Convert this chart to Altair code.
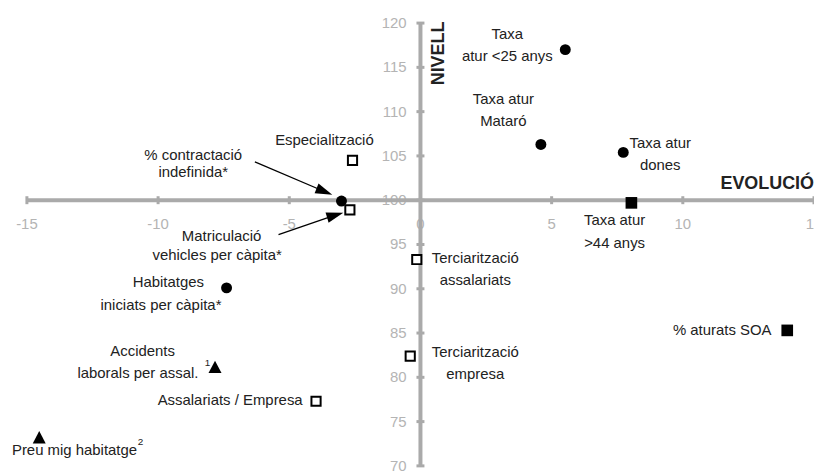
import altair as alt
import pandas as pd

# ---- data ----
names = ["Taxa atur <25 anys", "Taxa atur Mataró", "Taxa atur dones", "Taxa atur >44 anys",
         "% aturats SOA", "Terciarització assalariats", "Terciarització empresa", "Especialització",
         "% contractació indefinida*", "Matriculació vehicles per càpita*",
         "Habitatges iniciats per càpita*", "Accidents laborals per assal.",
         "Assalariats / Empresa", "Preu mig habitatge"]
evolucio = [5.52, 4.59, 7.73, 8.04, 13.98, -0.14, -0.39, -2.59, -3.01, -2.69, -7.39, -7.83, -3.98, -14.53]
nivell = [117.0, 106.3, 105.4, 99.7, 85.3, 93.3, 82.4, 104.5, 99.9, 98.9, 90.1, 81.15, 77.3, 73.2]
kinds = ["circle", "circle", "circle", "square", "square", "open", "open", "open",
         "circle", "open", "circle", "triangle", "open", "triangle"]

x_ticks = [-15, -10, -5, 0, 5, 10, 15]
y_ticks = [70, 75, 80, 85, 90, 95, 100, 105, 110, 115, 120]

# label lines: text, anchor x, anchor y, alignment
label_text = ["Taxa", "atur <25 anys", "Taxa atur", "Mataró", "Taxa atur", "dones",
              "Taxa atur", ">44 anys", "% aturats SOA", "Terciarització", "assalariats",
              "Terciarització", "empresa", "Especialització", "% contractació", "indefinida*",
              "Matriculació", "vehicles per càpita*", "Habitatges", "iniciats per càpita*",
              "Accidents", "laborals per assal.", "Assalariats / Empresa", "Preu mig habitatge"]
label_x = [3.31, 3.31, 3.16, 3.16, 9.14, 9.14, 7.40, 7.40, 13.38, 2.09, 2.09, 2.09, 2.09,
           -3.66, -8.66, -8.66, -7.58, -7.75, -9.61, -9.89, -10.59, -10.77, -4.49, -15.57]
label_y = [118.71, 116.24, 111.40, 108.93, 106.46, 103.99, 97.81, 95.22, 85.34, 93.43, 90.96,
           82.87, 80.39, 106.80, 105.11, 103.20, 96.01, 93.76, 90.76, 88.15, 83.01, 80.47,
           77.47, 71.78]
label_align = ["center"] * 8 + ["right"] + ["center"] * 13 + ["right", "left"]

sup_text = ["1", "2"]
sup_x = [-8.12, -10.67]
sup_y = [81.60, 72.72]

# arrows: start and head centre, head angle
arrow_x = [-6.31, -5.41]
arrow_y = [104.33, 96.12]
arrow_x2 = [-3.66, -3.25]
arrow_y2 = [100.98, 98.31]
arrow_angle = [111.9, 73.1]

axis_title = ["EVOLUCIÓ", "NIVELL"]

# ---- build ----
FONT = "Liberation Sans"
AX = "#aaaaaa"
LAB = "#b4b4b4"

xs = alt.Scale(domain=[x_ticks[0], x_ticks[-1]], nice=False, zero=False)
ys = alt.Scale(domain=[y_ticks[0], y_ticks[-1]], nice=False, zero=False)

def X(f):
    return alt.X(f, type="quantitative", scale=xs, axis=None)

def Y(f):
    return alt.Y(f, type="quantitative", scale=ys, axis=None)

pts = pd.DataFrame({"name": names, "x": evolucio, "y": nivell, "kind": kinds})
labs = pd.DataFrame({"t": label_text, "x": label_x, "y": label_y, "a": label_align})
sups = pd.DataFrame({"t": sup_text, "x": sup_x, "y": sup_y})
arr = pd.DataFrame({"x": arrow_x, "y": arrow_y, "x2": arrow_x2, "y2": arrow_y2, "ang": arrow_angle})
xt = pd.DataFrame({"v": x_ticks, "lab": [str(v) for v in x_ticks], "c": [100] * len(x_ticks)})
yt = pd.DataFrame({"v": y_ticks, "lab": [str(v) for v in y_ticks], "c": [0] * len(y_ticks)})
hline = pd.DataFrame({"x": [x_ticks[0]], "x2": [x_ticks[-1]], "y": [100]})
vline = pd.DataFrame({"y": [y_ticks[0]], "y2": [y_ticks[-1]], "x": [0]})

layers = []

# tick labels (under the axis lines)
layers.append(alt.Chart(xt).mark_text(dy=24, baseline="middle", align="center", font=FONT,
                                      fontSize=15, color=LAB).encode(x=X("v"), y=Y("c"), text="lab:N"))
layers.append(alt.Chart(yt).mark_text(dx=-14, baseline="middle", align="right", font=FONT,
                                      fontSize=15, color=LAB).encode(x=X("c"), y=Y("v"), text="lab:N"))
# axis lines
layers.append(alt.Chart(hline).mark_rule(strokeWidth=4, color=AX).encode(x=X("x"), x2="x2:Q", y=Y("y")))
layers.append(alt.Chart(vline).mark_rule(strokeWidth=4, color=AX).encode(y=Y("y"), y2="y2:Q", x=X("x")))
# tick marks
layers.append(alt.Chart(xt).mark_tick(orient="vertical", size=8, thickness=3, color=AX, opacity=1)
              .encode(x=X("v"), y=Y("c")))
layers.append(alt.Chart(yt).mark_tick(orient="horizontal", size=8, thickness=3, color=AX, opacity=1)
              .encode(x=X("c"), y=Y("v")))

# points
layers.append(alt.Chart(pts).transform_filter("datum.kind == 'circle'")
              .mark_point(shape="circle", filled=True, size=121, color="black", opacity=1)
              .encode(x=X("x"), y=Y("y")))
layers.append(alt.Chart(pts).transform_filter("datum.kind == 'square'")
              .mark_point(shape="square", filled=True, size=137, color="black", opacity=1)
              .encode(x=X("x"), y=Y("y")))
layers.append(alt.Chart(pts).transform_filter("datum.kind == 'open'")
              .mark_point(shape="square", filled=True, size=85, fill="white", stroke="black",
                          strokeWidth=2, opacity=1)
              .encode(x=X("x"), y=Y("y")))
layers.append(alt.Chart(pts).transform_filter("datum.kind == 'triangle'")
              .mark_point(shape="M0,-1L1,0.9L-1,0.9Z", filled=True, size=170, color="black", opacity=1)
              .encode(x=X("x"), y=Y("y")))

# arrows
layers.append(alt.Chart(arr).mark_rule(strokeWidth=1.3, color="black")
              .encode(x=X("x"), y=Y("y"), x2="x2:Q", y2="y2:Q"))
layers.append(alt.Chart(arr).mark_point(shape="M0,-1L0.62,1L-0.62,1Z", filled=True, size=289,
                                        color="black", opacity=1)
              .encode(x=X("x2"), y=Y("y2"), angle=alt.Angle("ang:Q", scale=None)))

# labels
for a in ["center", "right", "left"]:
    layers.append(alt.Chart(labs).transform_filter(f"datum.a == '{a}'")
                  .mark_text(align=a, baseline="middle", font=FONT, fontSize=15, color="#222222")
                  .encode(x=X("x"), y=Y("y"), text="t:N"))
layers.append(alt.Chart(sups).mark_text(align="center", baseline="middle", font=FONT, fontSize=10,
                                        color="#222222")
              .encode(x=X("x"), y=Y("y"), text="t:N"))

# axis titles
layers.append(alt.Chart(pd.DataFrame({"t": [axis_title[0]], "x": [x_ticks[-1]], "y": [101.29]}))
              .mark_text(align="right", baseline="alphabetic", font=FONT, fontSize=18,
                         fontWeight="bold", color="#222222")
              .encode(x=X("x"), y=Y("y"), text="t:N"))
layers.append(alt.Chart(pd.DataFrame({"t": [axis_title[1]], "x": [0.71], "y": [116.57]}))
              .mark_text(align="center", baseline="middle", angle=270, font=FONT, fontSize=18,
                         fontWeight="bold", color="#222222")
              .encode(x=X("x"), y=Y("y"), text="t:N"))

chart = alt.layer(*layers).properties(
    width=791, height=445,
    padding={"left": 19, "top": 14, "right": 0, "bottom": 6},
    autosize=alt.AutoSizeParams(type="none"),
).configure_view(strokeWidth=0)

chart.save("out.html", embed_options={"renderer": "svg", "actions": False})
